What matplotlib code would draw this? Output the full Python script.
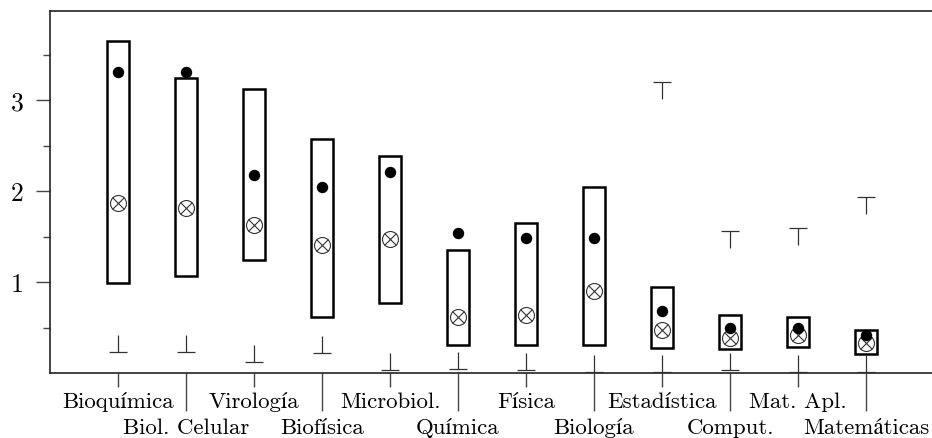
import numpy as np
import matplotlib.pyplot as plt
from matplotlib.path import Path

plt.rcParams['font.family'] = ['cmr10', 'STIXGeneral']
plt.rcParams['axes.formatter.use_mathtext'] = True

campos = ["Bioquímica", "Biol. Celular", "Virología", "Biofísica", "Microbiol.",
          "Química", "Física", "Biología", "Estadística", "Comput.",
          "Mat. Apl.", "Matemáticas"]
caja_sup = [3.65, 3.24, 3.12, 2.575, 2.39, 1.35, 1.645, 2.04, 0.95, 0.64, 0.615, 0.47]
caja_inf = [0.99, 1.07, 1.245, 0.615, 0.765, 0.31, 0.31, 0.31, 0.275, 0.26, 0.285, 0.21]
media = [3.31, 3.31, 2.18, 2.05, 2.215, 1.54, 1.48, 1.48, 0.68, 0.495, 0.495, 0.415]
mediana = [1.87, 1.81, 1.63, 1.41, 1.47, 0.62, 0.64, 0.90, 0.47, 0.385, 0.42, 0.33]
minimo = [0.23, 0.23, 0.12, 0.22, 0.036, 0.044, 0.03, 0.01, 0.01, 0.03, 0.01, 0.01]
# los maximos de los primeros campos quedan fuera del grafico
maximo = [np.nan, np.nan, np.nan, np.nan, np.nan, np.nan, np.nan, np.nan,
          3.20, 1.56, 1.59, 1.94]

x = np.arange(1, len(campos) + 1)
alto = np.array(caja_sup) - np.array(caja_inf)

# marcadores tipo \perp y \top (la barra en el valor)
perp = Path([(-1, 0), (1, 0), (0, 0), (0, 2)],
            [Path.MOVETO, Path.LINETO, Path.MOVETO, Path.LINETO])
top = Path([(-1, 0), (1, 0), (0, 0), (0, -2)],
           [Path.MOVETO, Path.LINETO, Path.MOVETO, Path.LINETO])

fig = plt.figure(figsize=(9.32, 4.39), dpi=100)
ax = fig.add_axes([50 / 932, 65 / 439, 884 / 932, 362 / 439])

ax.bar(x, alto, bottom=caja_inf, width=0.32, fill=False,
       edgecolor='black', linewidth=1.8, zorder=2)
ax.plot(x, minimo, linestyle='none', marker=perp, markersize=24.5,
        mfc='none', mec='#333333', mew=0.9, clip_on=False, zorder=3)
ax.plot(x, maximo, linestyle='none', marker=top, markersize=24.5,
        mfc='none', mec='#333333', mew=0.9, zorder=3)
ax.plot(x, mediana, linestyle='none', marker='o', markersize=11.5,
        mfc='none', mec='#333333', mew=0.8, zorder=4)
ax.plot(x, mediana, linestyle='none', marker='x', markersize=8.1,
        mec='#333333', mew=0.8, zorder=4)
ax.plot(x, media, linestyle='none', marker='o', markersize=7.2,
        color='black', zorder=5)

ax.set_xlim(0, 13)
ax.set_ylim(0, 3.98)

ax.set_yticks([1, 2, 3], ["1", "2", "3"])
ax.set_yticks([0.5, 1.5, 2.5, 3.5], minor=True)
ax.tick_params(axis='y', which='major', length=10, width=1, color='#444444',
               pad=9, labelsize=18.5)
ax.tick_params(axis='y', which='minor', length=5, width=1, color='#444444')

# etiquetas alternadas en dos filas
ax.set_xticks(x[0::2], campos[0::2])
ax.set_xticks(x[1::2], campos[1::2], minor=True)
ax.tick_params(axis='x', which='major', length=10, width=1, color='#444444',
               pad=3, labelsize=16.5)
ax.tick_params(axis='x', which='minor', length=27.5, width=1, color='#444444',
               pad=4.5, labelsize=16.5)

for lado in ['left', 'top', 'bottom']:
    ax.spines[lado].set_color('#222222')
    ax.spines[lado].set_linewidth(1.2)
ax.spines['right'].set_visible(False)

fig.savefig("out.png", dpi=100)
